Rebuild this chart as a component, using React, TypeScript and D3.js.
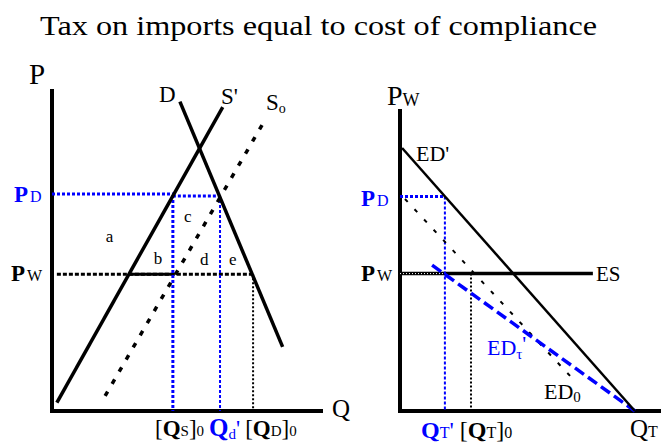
import React from "react";
import * as d3 from "d3";

// ---------- Data (diagram units, 0..100 on each panel) ----------
const title = "Tax on imports equal to cost of compliance";

// Left panel: domestic market
const demandD = [ { q: 47.2, p: 96.1 }, { q: 85.1, p: 19.9 } ];
const supplyPrime = [ { q: 1.8, p: 2.6 }, { q: 63.0, p: 94.4 } ];
const supplyZero = [ { q: 19.6, p: 4.7 }, { q: 78.6, p: 90.4 } ];
const leftPrices = { PD: 67.1, PW: 42.5 };
const leftQuantities = { Qs0: 44.6, Qd1: 62.0, QD0: 74.2, SprimeAtPW: 28.4 };
const areaLabels = [
  { t: "a", q: 19.8, p: 52.5 },
  { t: "b", q: 37.5, p: 45.5 },
  { t: "c", q: 48.7, p: 58.7 },
  { t: "d", q: 54.6, p: 45.2 },
  { t: "e", q: 65.3, p: 45.2 },
];

// Right panel: import market
const edPrime = [ { q: 0.8, p: 87.1 }, { q: 90.0, p: 0 } ];
const edTau = [ { q: 12.3, p: 48.3 }, { q: 90.0, p: 0 } ];
const edZero = [ { q: 1.9, p: 70.2 }, { q: 67.0, p: 9.9 } ];
const rightPrices = { PD: 71.0, PW: 45.5 };
const rightQuantities = { Qtau: 17.2, QT0: 27.2, ESend: 73.9 };

// ---------- Scales ----------
const lx = d3.scaleLinear().domain([0, 100]).range([52, 323]);
const ly = d3.scaleLinear().domain([0, 100]).range([411, 89]);
const rx = d3.scaleLinear().domain([0, 100]).range([400, 661]);
const ry = d3.scaleLinear().domain([0, 100]).range([411, 109]);

type Pt = { q: number; p: number };
const mkLine = (xs: d3.ScaleLinear<number, number>, ys: d3.ScaleLinear<number, number>) =>
  d3.line<Pt>().x((d) => xs(d.q)).y((d) => ys(d.p));
const leftLine = mkLine(lx, ly);
const rightLine = mkLine(rx, ry);

const FONT = '"Liberation Serif", "Times New Roman", Times, serif';
const BLUE = "#0000ff";

export default function App() {
  return (
    <svg width={664} height={445} style={{ position: "absolute", left: 0, top: 0, background: "#fff", fontFamily: FONT }}>
      <rect width={664} height={445} fill="#fff" />
      <text x={40} y={35} fontSize={27} textLength={557} lengthAdjust="spacingAndGlyphs">{title}</text>

      {/* ---------- LEFT PANEL ---------- */}
      <line x1={lx(0)} y1={ly(100)} x2={lx(0)} y2={ly(0) + 2} stroke="#000" strokeWidth={4} />
      <line x1={lx(0) - 2} y1={ly(0)} x2={lx(100)} y2={ly(0)} stroke="#000" strokeWidth={4} />
      <text x={29} y={84} fontSize={29}>P</text>
      <text x={332} y={417} fontSize={25}>Q</text>

      {/* PW dotted and solid segment */}
      <line x1={lx(1.8)} y1={ly(leftPrices.PW)} x2={lx(leftQuantities.QD0)} y2={ly(leftPrices.PW)} stroke="#000" strokeWidth={3} strokeDasharray="4,2" />
      <line x1={lx(leftQuantities.SprimeAtPW)} y1={ly(leftPrices.PW)} x2={lx(leftQuantities.Qs0)} y2={ly(leftPrices.PW)} stroke="#000" strokeWidth={3} />
      <line x1={lx(leftQuantities.QD0)} y1={ly(leftPrices.PW)} x2={lx(leftQuantities.QD0)} y2={ly(0)} stroke="#000" strokeWidth={2} strokeDasharray="2,2" />

      {/* PD blue dotted */}
      <line x1={lx(0)} y1={ly(leftPrices.PD) - 1} x2={lx(leftQuantities.Qs0)} y2={ly(leftPrices.PD) - 1} stroke={BLUE} strokeWidth={3} strokeDasharray="3,2" />
      <line x1={lx(leftQuantities.Qs0)} y1={ly(leftPrices.PD) + 1} x2={lx(leftQuantities.Qd1)} y2={ly(leftPrices.PD) + 1} stroke={BLUE} strokeWidth={3} strokeDasharray="3,2" />
      <line x1={lx(leftQuantities.Qs0)} y1={ly(leftPrices.PD)} x2={lx(leftQuantities.Qs0)} y2={ly(0)} stroke={BLUE} strokeWidth={3} strokeDasharray="3,2" />
      <line x1={lx(leftQuantities.Qd1)} y1={ly(leftPrices.PD)} x2={lx(leftQuantities.Qd1)} y2={ly(0)} stroke={BLUE} strokeWidth={2} strokeDasharray="3,2" />

      {/* curves */}
      <path d={leftLine(supplyZero) ?? ""} stroke="#000" strokeWidth={3.5} strokeDasharray="5,9" fill="none" />
      <path d={leftLine(supplyPrime) ?? ""} stroke="#000" strokeWidth={3.5} fill="none" />
      <path d={leftLine(demandD) ?? ""} stroke="#000" strokeWidth={3.5} fill="none" />

      <text x={159} y={102} fontSize={23}>D</text>
      <text x={221} y={104} fontSize={23}>S'</text>
      <text x={266} y={110} fontSize={23}>S<tspan fontSize={14} dy={3}>o</tspan></text>

      {areaLabels.map((a) => (
        <text key={a.t} x={lx(a.q)} y={ly(a.p)} fontSize={17}>{a.t}</text>
      ))}

      <text x={14} y={202} fontSize={23} fontWeight="bold" fill={BLUE}>P<tspan fontSize={16} fontWeight="normal" dx={2}>D</tspan></text>
      <text x={11} y={281} fontSize={23} fontWeight="bold">P<tspan fontSize={16} fontWeight="normal" dx={2}>W</tspan></text>

      <text x={155} y={436} fontSize={23}>
        [<tspan fontWeight="bold">Q</tspan><tspan fontSize={15}>S</tspan>]<tspan fontSize={15}>0</tspan>
        <tspan dx={5} fill={BLUE} fontWeight="bold" fontSize={25}>Q</tspan><tspan fill={BLUE} fontSize={15} dy={3}>d</tspan><tspan fill={BLUE} dy={-3}>'</tspan>
        <tspan dx={5}>[</tspan><tspan fontWeight="bold">Q</tspan><tspan fontSize={15}>D</tspan>]<tspan fontSize={15}>0</tspan>
      </text>

      {/* ---------- RIGHT PANEL ---------- */}
      <line x1={rx(0)} y1={ry(100)} x2={rx(0)} y2={ry(0) + 2} stroke="#000" strokeWidth={4} />
      <line x1={rx(0) - 2} y1={ry(0)} x2={rx(100)} y2={ry(0)} stroke="#000" strokeWidth={4} />
      <text x={387} y={105} fontSize={28}>P<tspan fontSize={18} dy={1}>W</tspan></text>

      {/* ES line */}
      <line x1={rx(0)} y1={ry(rightPrices.PW)} x2={rx(rightQuantities.ESend)} y2={ry(rightPrices.PW)} stroke="#000" strokeWidth={3.5} />
      <line x1={rx(0)} y1={ry(rightPrices.PW)} x2={rx(rightQuantities.Qtau)} y2={ry(rightPrices.PW)} stroke="#fff" strokeWidth={1} strokeDasharray="1,2" />
      <text x={596} y={281} fontSize={21}>ES</text>

      {/* PD blue */}
      <line x1={rx(0)} y1={ry(rightPrices.PD)} x2={rx(rightQuantities.Qtau)} y2={ry(rightPrices.PD)} stroke={BLUE} strokeWidth={3} strokeDasharray="3,2" />
      <line x1={rx(rightQuantities.Qtau)} y1={ry(rightPrices.PD)} x2={rx(rightQuantities.Qtau)} y2={ry(0)} stroke={BLUE} strokeWidth={2} strokeDasharray="3,2" />
      <line x1={rx(rightQuantities.QT0)} y1={ry(rightPrices.PW)} x2={rx(rightQuantities.QT0)} y2={ry(0)} stroke="#000" strokeWidth={2} strokeDasharray="2,2" />

      {/* curves */}
      <path d={rightLine(edZero) ?? ""} stroke="#000" strokeWidth={2} strokeDasharray="4,10" fill="none" />
      <path d={rightLine(edTau) ?? ""} stroke={BLUE} strokeWidth={3.5} strokeDasharray="11,5" fill="none" />
      <path d={rightLine(edPrime) ?? ""} stroke="#000" strokeWidth={2.5} fill="none" />

      <text x={416} y={161} fontSize={22}>ED'</text>
      <text x={487} y={355} fontSize={22} fill={BLUE}>ED<tspan fontSize={15} dy={4}>τ</tspan><tspan dy={-8}>'</tspan></text>
      <text x={544} y={399} fontSize={22}>ED<tspan fontSize={15} dy={3}>0</tspan></text>

      <text x={361} y={206} fontSize={23} fontWeight="bold" fill={BLUE}>P<tspan fontSize={16} fontWeight="normal" dx={2}>D</tspan></text>
      <text x={361} y={281} fontSize={23} fontWeight="bold">P<tspan fontSize={16} fontWeight="normal" dx={2}>W</tspan></text>

      <text x={630} y={437} fontSize={25}>Q<tspan fontSize={16}>T</tspan></text>
      <text x={421} y={438} fontSize={24}>
        <tspan fill={BLUE} fontWeight="bold">Q</tspan><tspan fill={BLUE} fontSize={16}>T</tspan><tspan fill={BLUE}>'</tspan>
        <tspan dx={6}>[</tspan><tspan fontWeight="bold">Q</tspan><tspan fontSize={16}>T</tspan>]<tspan fontSize={16}>0</tspan>
      </text>
    </svg>
  );
}
